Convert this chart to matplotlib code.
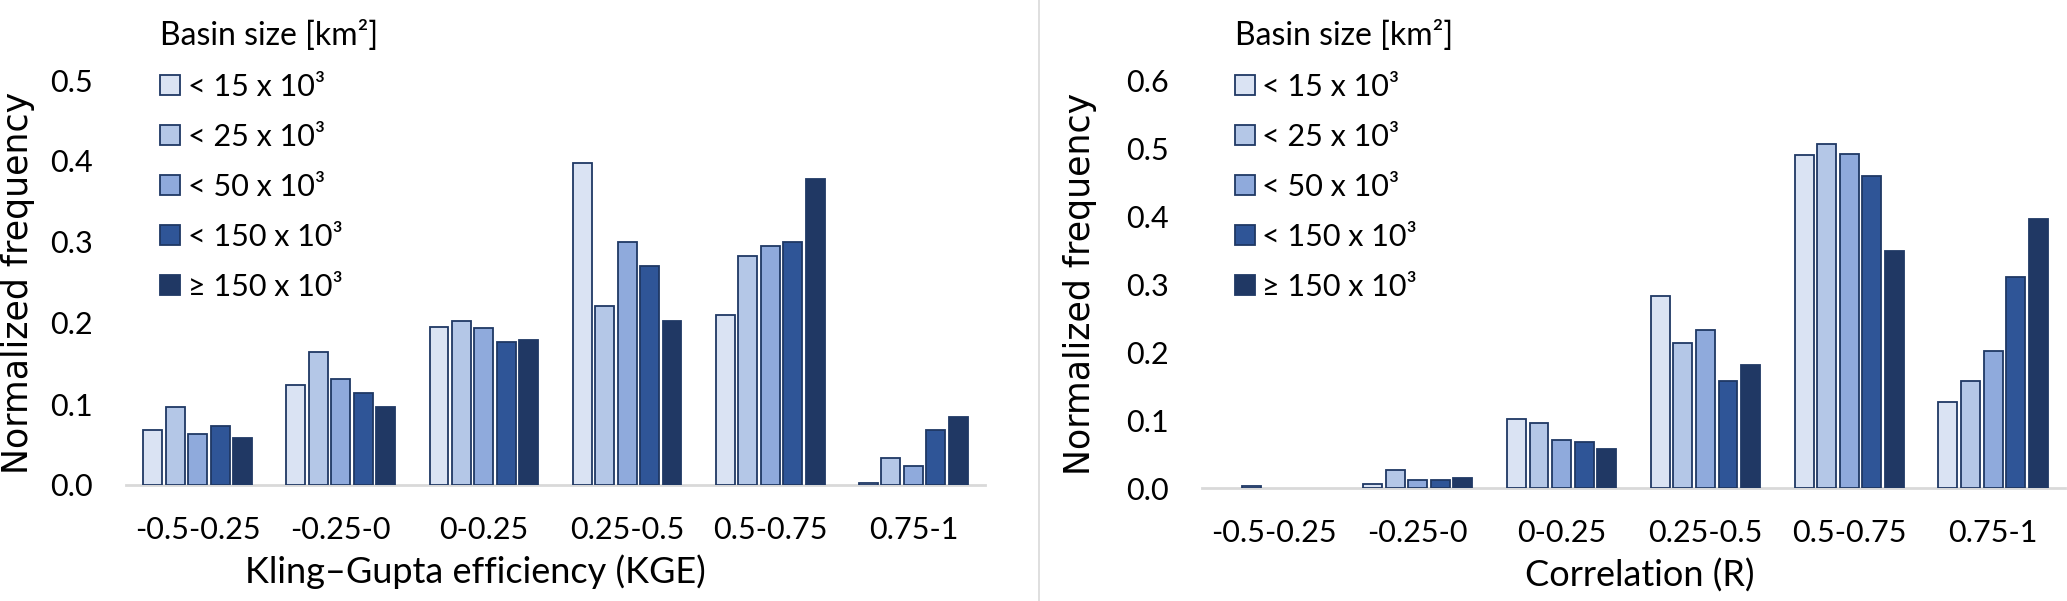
import numpy as np
import matplotlib
matplotlib.use("Agg")
import matplotlib.pyplot as plt
from matplotlib.lines import Line2D
from matplotlib.patches import Patch

# Data
categories = ["-0.5-0.25", "-0.25-0", "0-0.25", "0.25-0.5", "0.5-0.75", "0.75-1"]
series_labels = ["< 15 x 10³", "< 25 x 10³", "< 50 x 10³", "< 150 x 10³", "≥ 150 x 10³"]
colors = ["#DAE3F3", "#B4C7E7", "#8FAADC", "#2F5597", "#203864"]

# KGE panel, one list per basin size class
kge_15 = [0.068, 0.123, 0.195, 0.398, 0.210, 0.003]
kge_25 = [0.096, 0.164, 0.203, 0.221, 0.283, 0.033]
kge_50 = [0.063, 0.131, 0.194, 0.300, 0.295, 0.023]
kge_150 = [0.073, 0.114, 0.176, 0.270, 0.300, 0.068]
kge_big = [0.058, 0.096, 0.179, 0.203, 0.378, 0.084]

# Correlation panel
r_15 = [0.0, 0.006, 0.102, 0.282, 0.489, 0.126]
r_25 = [0.003, 0.027, 0.096, 0.213, 0.506, 0.158]
r_50 = [0.0, 0.012, 0.070, 0.232, 0.491, 0.202]
r_150 = [0.0, 0.012, 0.067, 0.157, 0.459, 0.310]
r_big = [0.0, 0.015, 0.058, 0.181, 0.348, 0.396]

kge = [kge_15, kge_25, kge_50, kge_150, kge_big]
corr = [r_15, r_25, r_50, r_150, r_big]

plt.rcParams["font.family"] = ["Lato", "DejaVu Sans"]

W, H = 2067, 601
fig = plt.figure(figsize=(W / 100, H / 100), dpi=100)

ax1 = fig.add_axes([126 / W, 1 - 485 / H, (985 - 126) / W, (485 - 80) / H])
ax2 = fig.add_axes([1202 / W, 1 - 488 / H, (2065 - 1202) / W, (488 - 80) / H])

# divider between the two panels
fig.add_artist(Line2D([1039 / W, 1039 / W], [0, 1], color="#D9D9D9", lw=1.2))

x = np.arange(len(categories))
step = 0.157
width = 0.132
edge = "#1F3864"


def draw(ax, data, ymax, xlabel, xlab_pos, ylab_x):
    for i, vals in enumerate(data):
        b = ax.bar(x + (i - 2) * step, vals, width, color=colors[i],
                   edgecolor=edge, linewidth=1.3, zorder=3)
        # empty classes draw nothing
        for rect, v in zip(b, vals):
            if v == 0:
                rect.set_visible(False)
    ax.set_xlim(-0.5, len(categories) - 0.5)
    ax.set_ylim(0, ymax)
    ticks = np.arange(0, ymax + 0.001, 0.1)
    ax.set_yticks(ticks)
    ax.set_yticklabels([f"{v:.1f}" for v in ticks])
    ax.set_xticks(x)
    ax.set_xticklabels(categories)
    for s in ["top", "right", "left"]:
        ax.spines[s].set_visible(False)
    ax.spines["bottom"].set_color("#D9D9D9")
    ax.spines["bottom"].set_linewidth(2)
    ax.spines["bottom"].set_zorder(2)
    ax.tick_params(axis="both", length=0, labelsize=22, colors="black")
    ax.tick_params(axis="y", pad=24)
    ax.tick_params(axis="x", pad=22)
    ax.set_xlabel(xlabel, fontsize=26)
    ax.xaxis.set_label_coords(xlab_pos, -0.172)
    ax.set_ylabel("Normalized frequency", fontsize=25, family="DejaVu Sans")
    ax.yaxis.set_label_coords(ylab_x, 0.5)
    handles = [Patch(facecolor=c, edgecolor=edge, linewidth=1.3) for c in colors]
    leg = ax.legend(handles, series_labels, loc="upper left", frameon=False,
                    fontsize=22, title="Basin size [km²]", title_fontsize=23,
                    alignment="left", handlelength=0.65, handleheight=0.65,
                    handletextpad=0.25, labelspacing=0.72, borderaxespad=0,
                    borderpad=0)
    return leg


leg1 = draw(ax1, kge, 0.5, "Kling–Gupta efficiency (KGE)", 0.407, -0.106)
leg1.set_bbox_to_anchor((160 / W, 1 - 20 / H), transform=fig.transFigure)
leg2 = draw(ax2, corr, 0.6, "Correlation (R)", 0.507, -0.122)
leg2.set_bbox_to_anchor((1235 / W, 1 - 20 / H), transform=fig.transFigure)

fig.savefig("out.png", dpi=100, facecolor="white")
